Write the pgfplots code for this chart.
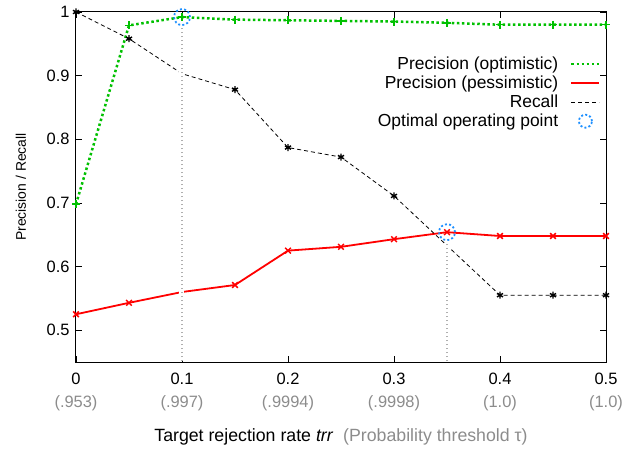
\documentclass[border=0pt]{standalone}
\usepackage{fontspec}
\setmainfont{Liberation Sans}
\usepackage{pgfplots}
\pgfplotsset{compat=1.18}
\definecolor{gpgreen}{RGB}{0,192,0}
\definecolor{gpred}{RGB}{255,0,0}
\definecolor{gpblue}{RGB}{30,144,255}
\definecolor{vgray}{RGB}{175,175,175}
\definecolor{tgray}{RGB}{140,140,140}
\begin{document}
\begin{tikzpicture}
\path[use as bounding box] (-76bp,-87bp) rectangle (555bp,362bp);
\begin{axis}[
  at={(0,0)}, anchor=south west,
  width=530bp, height=350bp, scale only axis,
  xmin=0, xmax=0.5, ymin=0.45, ymax=1,
  xtick={0,0.1,0.2,0.3,0.4,0.5},
  xticklabels={{0\\\color{tgray}(.953)},{0.1\\\color{tgray}(.997)},{0.2\\\color{tgray}(.9994)},{0.3\\\color{tgray}(.9998)},{0.4\\\color{tgray}(1.0)},{0.5\\\color{tgray}(1.0)}},
  ytick={0.5,0.6,0.7,0.8,0.9,1},
  yticklabels={0.5,0.6,0.7,0.8,0.9,1},
  xticklabel style={align=center, font=\fontsize{16.5}{23}\selectfont, yshift=-8bp},
  yticklabel style={font=\fontsize{16.5}{20}\selectfont, xshift=-3bp},
  tick align=inside, tick pos=both,
  major tick length=6bp,
  tick style={black, line width=0.8bp},
  axis line style={line width=1bp},
  /pgf/number format/assume math mode=true,
  xlabel={Target rejection rate \textit{trr}\ \ {\color{tgray}(Probability threshold τ)}},
  xlabel style={at={(axis description cs:0.5,-0.214)}, anchor=center, font=\fontsize{17.8}{20}\selectfont},
  ylabel={Precision / Recall},
  ylabel style={at={(axis description cs:-0.104,0.5)}, anchor=center, font=\fontsize{14}{17}\selectfont},
  legend style={at={(axis description cs:0.996,0.884)}, anchor=north east, draw=none, fill=none,
    font=\fontsize{17.5}{20}\selectfont, row sep=1bp},
  legend cell align=right,
  legend plot pos=right,
  legend image code/.code={\path (0bp,0bp); \draw[#1] (10bp,0bp) -- (38bp,0bp);},
]
% lines
\addplot[gpgreen, line width=2.5bp, dash pattern=on 2.5bp off 2.6bp] coordinates {
(0,0.698)(0.05,0.979)(0.1,0.992)(0.15,0.988)(0.2,0.987)(0.25,0.986)(0.3,0.985)(0.35,0.983)(0.4,0.980)(0.45,0.980)(0.5,0.980)};
\addlegendentry{Precision (optimistic)}
\addplot[gpred, line width=1.8bp] coordinates {
(0,0.525)(0.05,0.543)(0.1,0.560)(0.15,0.571)(0.2,0.625)(0.25,0.631)(0.3,0.643)(0.35,0.654)(0.4,0.648)(0.45,0.648)(0.5,0.648)};
\addlegendentry{Precision (pessimistic)}
\addplot[black, line width=0.8bp, dash pattern=on 4bp off 3bp] coordinates {
(0,1.0)(0.05,0.958)(0.1,0.903)(0.15,0.878)(0.2,0.787)(0.25,0.772)(0.3,0.711)(0.35,0.633)(0.4,0.555)(0.45,0.555)(0.5,0.555)};
\addlegendentry{Recall}
% vertical guide lines
\addplot[white, line width=5bp, forget plot] coordinates {(0.1,0.4515)(0.1,0.976)};
\addplot[white, line width=5bp, forget plot] coordinates {(0.35,0.4515)(0.35,0.639)};
\addplot[vgray, line width=1.4bp, dash pattern=on 1.5bp off 2.5bp, forget plot] coordinates {(0.1,0.4515)(0.1,0.976)};
\addplot[vgray, line width=1.4bp, dash pattern=on 1.5bp off 2.5bp, forget plot] coordinates {(0.35,0.4515)(0.35,0.639)};
% marks
\addplot[only marks, mark=+, mark size=4bp, mark options={gpgreen, line width=1.5bp}, forget plot] coordinates {
(0,0.698)(0.05,0.979)(0.1,0.992)(0.15,0.988)(0.2,0.987)(0.25,0.986)(0.3,0.985)(0.35,0.983)(0.4,0.980)(0.45,0.980)(0.5,0.980)};
\addplot[only marks, mark=x, mark size=4bp, mark options={gpred, line width=1.5bp}, forget plot] coordinates {
(0,0.525)(0.05,0.543)(0.15,0.571)(0.2,0.625)(0.25,0.631)(0.3,0.643)(0.35,0.654)(0.4,0.648)(0.45,0.648)(0.5,0.648)};
\addplot[only marks, mark=asterisk, mark size=3.5bp, mark options={black, line width=1.4bp}, forget plot] coordinates {
(0,1.0)(0.05,0.958)(0.15,0.878)(0.2,0.787)(0.25,0.772)(0.3,0.711)(0.4,0.555)(0.45,0.555)(0.5,0.555)};
% optimal points
\addplot[only marks, mark=o, mark size=8bp, mark options={gpblue, line width=1.8bp, dash pattern=on 2bp off 2.2bp},
  legend image code/.code={\path (0bp,0bp) (38bp,0bp); \draw[only marks, mark=o, mark size=6.5bp, mark options={gpblue, line width=1.8bp, dash pattern=on 2bp off 2.2bp}] plot coordinates {(24bp,0bp)};}] coordinates {(0.1,0.992)(0.35,0.654)};
\addlegendentry{Optimal operating point}
\end{axis}
\end{tikzpicture}
\end{document}
